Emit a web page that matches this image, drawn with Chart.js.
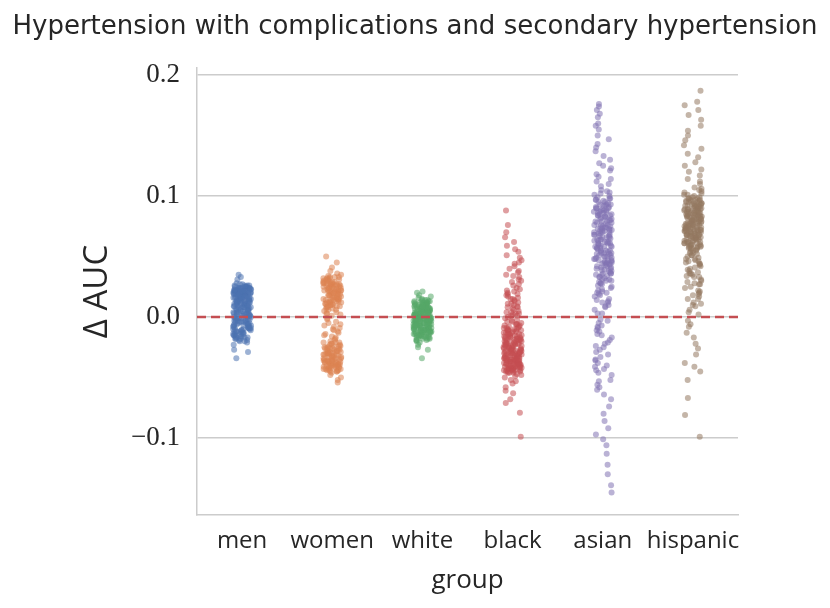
<!DOCTYPE html>
<html>
<head>
<meta charset="utf-8">
<script src="https://cdn.jsdelivr.net/npm/chart.js@4.4.1/dist/chart.umd.min.js"></script>
<style>
  html, body { margin: 0; padding: 0; background: #fff; }
  #wrap { width: 830px; height: 608px; }
</style>
</head>
<body>
<div id="wrap"><canvas id="stripChart" width="830" height="608"></canvas></div>
<script>
const titleText = 'Hypertension with complications and secondary hypertension';
const groups = ['men', 'women', 'white', 'black', 'asian', 'hispanic'];
const yTicks = [-0.1, 0, 0.1, 0.2];
const refLine = 0;

// delta AUC per bootstrap sample
const menVals = [
  0.021, 0.004, -0.012, 0.018, 0.025, -0.003, 0.009, 0.016, -0.017, 0.022, 0.001, 0.013, -0.008, 0.027, 0.019, -0.014, 0.006, 0.023, -0.001, 0.015,
  0.011, -0.019, 0.020, 0.003, 0.024, -0.006, 0.017, 0.008, -0.010, 0.021, 0.014, -0.004, 0.026, 0.002, -0.015, 0.019, 0.010, -0.009, 0.023, 0.005,
  0.018, -0.013, 0.022, 0.000, 0.016, -0.007, 0.025, 0.012, -0.018, 0.020, 0.007, -0.002, 0.024, 0.015, -0.011, 0.021, 0.003, -0.016, 0.019, 0.009,
  0.035, -0.029, 0.017, -0.005, 0.022, 0.011, -0.020, 0.026, 0.006, -0.008, 0.020, 0.013, -0.003, 0.023, 0.001, -0.012, 0.018, 0.016, -0.006, 0.024,
  0.010, -0.014, 0.021, 0.004, -0.001, 0.019, 0.014, -0.017, 0.025, 0.008, -0.010, 0.022, 0.002, -0.004, 0.017, 0.012, -0.021, 0.020, 0.006, 0.028,
  -0.034, 0.015, -0.007, 0.023, 0.009, -0.015, 0.018, 0.003, -0.002, 0.021, 0.013, -0.009, 0.026, 0.007, -0.019, 0.016, 0.011, -0.005, 0.024, 0.000,
  0.019, -0.013, 0.022, 0.005, -0.011, 0.020, 0.014, -0.003, 0.017, 0.010, -0.016, 0.025, 0.002, -0.008, 0.021, 0.015, -0.018, 0.023, 0.008, -0.006,
  0.033, -0.027, 0.018, 0.012, -0.001, 0.022, 0.004, -0.014, 0.019, 0.016, -0.010, 0.024, 0.006, -0.020, 0.020, 0.011, -0.004, 0.027, 0.001, -0.012,
  0.031, -0.023, 0.017, 0.009, -0.007, 0.021, 0.014, -0.005, 0.022, 0.008, -0.012, 0.019, 0.001, 0.024, -0.009, 0.017,
  0.011, -0.015, 0.021, 0.004, -0.002, 0.018, 0.013, -0.018, 0.025, 0.006, -0.007, 0.020, 0.010, -0.011, 0.023, 0.002, 0.016, -0.004, 0.019, 0.012,
  -0.014, 0.022, 0.007, -0.001, 0.026, 0.015, -0.008, 0.018, 0.003, -0.016, 0.021, 0.009, -0.006, 0.024, 0.013, -0.010, 0.017, 0.000, 0.020, -0.013,
  0.011, 0.023, -0.003, 0.016, 0.005, -0.017, 0.022, 0.014, -0.009, 0.019
];
const womenVals = [
  0.021, -0.033, 0.014, -0.041, 0.028, -0.026, 0.007, -0.038, 0.019, -0.012, 0.031, -0.044, 0.011, -0.029, 0.024, -0.005, -0.036, 0.016, -0.022, 0.033,
  -0.040, 0.003, -0.031, 0.026, -0.018, 0.012, -0.043, 0.022, -0.027, 0.009, -0.035, 0.030, -0.008, -0.039, 0.017, -0.024, 0.025, -0.032, 0.005, -0.045,
  0.020, -0.015, 0.034, -0.037, 0.013, -0.028, 0.027, -0.002, -0.042, 0.018, -0.021, 0.010, -0.034, 0.029, -0.030, 0.015, -0.010, -0.040, 0.023, -0.025,
  0.050, -0.054, 0.032, -0.038, 0.006, -0.023, 0.021, -0.044, 0.014, -0.033, 0.026, -0.016, 0.001, -0.036, 0.019, -0.029, 0.031, -0.041, 0.008, -0.020,
  0.045, -0.050, 0.024, -0.031, 0.012, -0.007, -0.039, 0.028, -0.026, 0.017, -0.043, 0.022, -0.034, 0.004, -0.013, 0.033, -0.037, 0.016, -0.022, 0.025,
  -0.030, 0.011, -0.042, 0.020, -0.027, 0.029, -0.004, -0.035, 0.014, -0.019, 0.027, -0.040, 0.007, -0.032, 0.023, -0.024, 0.018, -0.045, 0.030, -0.011,
  0.041, -0.048, 0.010, -0.036, 0.026, -0.028, 0.015, -0.001, -0.038, 0.021, -0.017, 0.032, -0.043, 0.013, -0.031, 0.024, -0.009, -0.033, 0.019, -0.025,
  0.038, -0.052, 0.028, -0.039, 0.002, -0.021, 0.022, -0.041, 0.016, -0.034, 0.035, -0.014, 0.009, -0.037, 0.027, -0.030, 0.012, -0.044, 0.020, -0.006,
  0.036, -0.046, 0.025, -0.026, 0.018, -0.036, 0.026, -0.029, 0.011, -0.042, 0.030, -0.024, 0.015, -0.039, 0.022, -0.032,
  0.006, -0.044, 0.028, -0.027, 0.019, -0.037, 0.013, -0.021, 0.032, -0.040, 0.024, -0.030, 0.009, -0.035, 0.027, -0.043, 0.016, -0.026, 0.021, -0.038,
  0.003, -0.033, 0.029, -0.041, 0.012, -0.023, 0.025, -0.034, 0.020, -0.045, 0.031, -0.028, 0.014, -0.039, 0.023, -0.031, 0.008, -0.036, 0.027, -0.042,
  0.017, -0.025, 0.033, -0.037, 0.010, -0.030, 0.022, -0.040
];
const whiteVals = [
  -0.003, 0.005, -0.011, 0.009, -0.006, 0.001, -0.015, 0.012, -0.008, -0.001, 0.007, -0.013, 0.003, -0.005, 0.010, -0.017, -0.002, 0.006, -0.009, 0.013,
  -0.004, 0.000, -0.012, 0.008, -0.007, 0.002, -0.016, 0.011, -0.003, -0.010, 0.004, -0.014, 0.014, -0.006, 0.001, -0.019, 0.009, -0.002, -0.008, 0.006,
  0.020, -0.034, -0.011, 0.005, -0.004, 0.012, -0.013, 0.003, -0.007, 0.000, -0.018, 0.010, -0.001, -0.009, 0.007, -0.015, 0.002, -0.005, 0.015, -0.012,
  0.004, -0.003, -0.020, 0.008, -0.006, 0.001, -0.010, 0.011, -0.002, -0.014, 0.006, -0.008, 0.013, -0.004, 0.000, -0.017, 0.009, -0.011, 0.003, -0.001,
  0.021, -0.027, 0.007, -0.005, -0.012, 0.010, -0.003, 0.002, -0.016, 0.005, -0.009, 0.014, -0.006, 0.000, -0.013, 0.008, -0.002, -0.021, 0.004, -0.007,
  0.017, -0.025, 0.011, -0.010, 0.001, -0.004, 0.006, -0.015, 0.012, -0.008, -0.001, 0.003, -0.018, 0.009, -0.005, 0.016, -0.011, 0.002, -0.003, -0.014,
  0.018, -0.023, 0.007, -0.006, 0.010, -0.009, 0.004, -0.002, -0.012, 0.013, -0.019, 0.005, -0.005, 0.008, -0.010, 0.002, -0.014, 0.011,
  -0.002, -0.008, 0.005, -0.016, 0.013, -0.004, 0.000, -0.012, 0.007, -0.007, 0.003, -0.018, 0.010, -0.001, -0.009, 0.006, -0.013, 0.012, -0.003, 0.001,
  -0.015, 0.009, -0.006, 0.004, -0.011, 0.014, -0.002, -0.017, 0.007, -0.005, 0.010, -0.008, 0.002, -0.012, 0.005, -0.004, -0.014, 0.011, -0.001, -0.010,
  0.008, -0.006, 0.000, -0.016, 0.012, -0.003, 0.004, -0.009, 0.006, -0.013, 0.001, -0.007, 0.009, -0.019
];
const blackVals = [
  -0.021, 0.012, -0.034, -0.009, 0.045, -0.027, -0.041, 0.003, -0.016, -0.038, 0.019, -0.030, -0.006, -0.044, 0.026, -0.023, -0.012, -0.036, 0.008, -0.019,
  -0.031, 0.062, -0.043, -0.014, 0.001, -0.025, -0.039, 0.015, -0.008, -0.033, -0.046, 0.034, -0.018, -0.028, -0.002, -0.040, 0.022, -0.011, -0.035, -0.024,
  0.088, -0.052, 0.005, -0.029, -0.017, -0.042, 0.010, -0.037, -0.020, 0.040, -0.007, -0.032, -0.045, 0.017, -0.026, -0.013, -0.039, 0.000, -0.022, -0.034,
  0.076, -0.058, 0.024, -0.015, -0.030, -0.043, 0.006, -0.019, -0.036, 0.049, -0.010, -0.027, -0.041, 0.013, -0.005, -0.033, -0.023, 0.031, -0.038, -0.016,
  0.070, -0.063, 0.002, -0.044, -0.028, -0.012, 0.020, -0.035, -0.021, 0.037, -0.031, -0.047, 0.009, -0.017, -0.040, -0.025, 0.054, -0.008, -0.032, -0.042,
  0.066, -0.071, 0.016, -0.029, -0.014, -0.037, 0.004, -0.024, -0.045, 0.027, -0.019, -0.034, -0.003, -0.039, 0.011, -0.026, -0.011, 0.044, -0.030, -0.043,
  0.059, -0.079, 0.021, -0.036, -0.018, -0.006, -0.041, 0.007, -0.022, 0.033, -0.028, -0.046, 0.014, -0.015, -0.033, -0.038, 0.051, -0.001, -0.020, -0.044,
  0.056, -0.099, 0.018, -0.027, -0.009, -0.040, 0.029, -0.031, -0.049, 0.042, -0.035, -0.013, 0.003, -0.024, -0.042, 0.038, -0.016, -0.055, 0.023, -0.037,
  0.047, -0.061, -0.004, -0.029, -0.045, 0.030, -0.022, -0.039, -0.050, -0.068, 0.035, -0.032,
  -0.027, -0.039, -0.015, -0.033, -0.044, -0.020, -0.010, -0.036, -0.025, -0.041, -0.018, -0.030, -0.006, -0.038, -0.023, -0.045, -0.013, -0.034, -0.028, -0.040,
  -0.017, -0.031, -0.043, -0.022, -0.009, -0.037, -0.026, -0.042, -0.014, -0.032, 0.004, -0.024, -0.046, -0.019, -0.035, -0.011, -0.029, -0.041, 0.011, -0.021,
  -0.036, -0.007, -0.044, -0.027, -0.016, -0.039, 0.008, -0.030, -0.012, -0.042, -0.025, -0.034, 0.015, -0.020, -0.038, -0.031, -0.004, -0.043, -0.023, -0.035,
  -0.048, -0.053, 0.019, -0.010, -0.037, -0.026, 0.001, -0.040, -0.018, -0.033
];
const asianVals = [
  0.062, 0.034, 0.081, -0.012, 0.047, 0.093, 0.021, 0.068, 0.055, -0.031, 0.076, 0.040, 0.102, 0.015, 0.059, 0.087, 0.028, -0.048, 0.071, 0.044,
  0.176, 0.053, 0.009, 0.084, 0.036, 0.065, -0.005, 0.097, 0.049, 0.025, 0.073, 0.057, -0.022, 0.090, 0.038, 0.012, 0.079, 0.061, -0.040, 0.045,
  0.171, 0.104, 0.031, 0.066, 0.052, -0.015, 0.088, 0.042, 0.018, 0.074, 0.058, -0.036, 0.095, 0.033, 0.006, 0.070, 0.048, -0.056, 0.083, 0.027,
  0.165, 0.060, 0.039, -0.002, 0.092, 0.054, 0.020, 0.077, 0.043, -0.027, 0.099, 0.064, 0.030, 0.086, 0.050, -0.009, 0.072, 0.035, -0.064, 0.082,
  0.158, 0.046, 0.013, 0.069, 0.056, -0.019, 0.091, 0.041, 0.024, 0.078, 0.063, -0.044, 0.100, 0.037, 0.003, 0.075, 0.051, -0.033, 0.085, 0.029,
  0.150, 0.067, 0.017, 0.058, 0.094, -0.007, 0.044, 0.080, 0.032, -0.052, 0.061, 0.089, 0.022, 0.070, 0.039, -0.024, 0.096, 0.053, 0.010, 0.076,
  0.143, -0.074, 0.121, 0.048, 0.087, 0.026, -0.011, 0.066, 0.035, 0.103, -0.060, 0.057, 0.081, 0.014, -0.038, 0.073, 0.045, 0.098, -0.017, 0.062,
  0.137, -0.086, 0.116, 0.030, 0.084, 0.050, -0.003, 0.091, 0.040, 0.068, -0.046, 0.055, 0.019, 0.079, -0.029, 0.064, 0.105, 0.042, -0.068, 0.088,
  0.130, -0.092, 0.112, 0.074, 0.023, -0.014, 0.060, 0.036, -0.053, 0.093, 0.047, 0.008, -0.035, 0.071, -0.101, 0.125, -0.106, 0.168, -0.122, 0.155,
  -0.139, 0.147, -0.145, 0.133, -0.080, 0.118, -0.113, 0.127, -0.097, 0.160, -0.058, 0.110, -0.021, 0.140, -0.043, 0.108, 0.174, -0.130, 0.123, 0.114,
  0.058, 0.083, 0.041, 0.069, 0.092, 0.052, 0.075, 0.036, 0.064, 0.087, 0.047, 0.071, 0.098, 0.055, 0.080, 0.028, 0.062, 0.090, 0.044, 0.073,
  0.050, 0.085, 0.033, 0.067, 0.095, 0.057, 0.078, 0.020, 0.061, 0.088, 0.046, 0.070, 0.101, 0.053, 0.082, 0.038, 0.066, 0.093, 0.049, 0.076,
  0.012, 0.059, 0.086, 0.043, 0.072, 0.097, 0.054, 0.079, 0.031, 0.063, -0.008, 0.090, 0.045, -0.025, 0.068, 0.003, 0.084, -0.041, 0.051, 0.074
];
const hispanicVals = [
  0.081, 0.064, 0.095, 0.072, 0.058, 0.089, 0.076, 0.101, 0.067, 0.084, 0.062, 0.093, 0.070, 0.079, 0.055, 0.087, 0.074, 0.098, 0.066, 0.083,
  0.044, 0.077, 0.060, 0.091, 0.069, 0.086, 0.028, 0.073, 0.096, 0.063, 0.080, 0.012, 0.068, 0.090, 0.057, 0.075, 0.038, 0.085, 0.071, 0.104,
  0.178, 0.061, 0.082, 0.050, 0.094, 0.078, 0.019, 0.065, 0.088, 0.073, 0.035, 0.097, 0.059, 0.080, -0.008, 0.069, 0.092, 0.076, 0.047, 0.084,
  0.171, 0.066, 0.099, 0.054, 0.079, 0.024, 0.087, 0.071, 0.006, 0.062, 0.095, 0.041, 0.074, 0.083, -0.017, 0.068, 0.090, 0.031, 0.077, 0.060,
  0.163, 0.086, 0.051, 0.072, 0.097, 0.015, 0.065, 0.081, 0.043, 0.088, -0.026, 0.070, 0.056, 0.093, 0.022, 0.078, 0.063, 0.102, 0.037, 0.085,
  0.154, 0.067, 0.009, 0.075, 0.046, 0.091, 0.059, 0.082, -0.003, 0.073, 0.027, 0.096, 0.064, 0.053, 0.087, 0.017, 0.070, 0.079, 0.040, 0.061,
  0.146, -0.045, 0.120, 0.084, 0.033, 0.068, 0.105, 0.049, -0.031, 0.076, 0.092, 0.002, 0.058, 0.081, 0.029, -0.013, 0.066, 0.100, 0.045, 0.072,
  0.139, -0.067, 0.114, 0.052, 0.089, 0.010, 0.074, -0.022, 0.061, 0.094, 0.036, 0.083, -0.038, 0.069, 0.048, 0.098, 0.020, 0.078, 0.057, 0.090,
  0.132, -0.081, 0.125, 0.175, 0.110, 0.187, 0.117, 0.167, 0.128, 0.158, 0.122, 0.150, 0.112, 0.142, 0.135, -0.099, 0.106, -0.052, 0.107, -0.041,
  0.078, 0.092, 0.065, 0.086, 0.071, 0.099, 0.059, 0.083, 0.074, 0.094, 0.067, 0.088, 0.062, 0.080, 0.097, 0.070, 0.085, 0.057, 0.091, 0.076,
  0.064, 0.089, 0.073, 0.101, 0.068, 0.082, 0.060, 0.095, 0.077, 0.087, 0.066, 0.093, 0.072, 0.084, 0.056, 0.090, 0.075, 0.098, 0.069, 0.081,
  0.063, 0.096, 0.079, 0.088, 0.058, 0.092, 0.071, 0.085, 0.066, 0.103, 0.074, 0.083, 0.061, 0.089, 0.078, 0.094, 0.068, 0.086, 0.073, 0.080,
  0.042, 0.027, 0.051, 0.015, 0.036, 0.048, 0.004, 0.033, 0.055, 0.021, 0.039, 0.046, 0.011, 0.030, 0.053, -0.006, 0.025, 0.044, 0.018, 0.034
];

const groupVals = [menVals, womenVals, whiteVals, blackVals, asianVals, hispanicVals];
const colors = ['76,114,176', '221,132,82', '85,168,104', '196,78,82', '129,114,179', '147,120,96'];

const textColor = '#262626';
const gridColor = '#cccccc';
const sansFont = '"Open Sans", "Noto Sans", sans-serif';
const titleFont = '"DejaVu Sans", sans-serif';
const serifFont = '"Liberation Serif", "DejaVu Serif", serif';

// fixed strip jitter so the picture is the same every run
function jitter(g, i) {
  const s = Math.sin((g + 1) * 997 + i * 12.9898) * 43758.5453;
  return (s - Math.floor(s) - 0.5) * 0.2;
}

function tickText(v) {
  if (v === 0) return '0.0';
  return (v < 0 ? '\u2212' : '') + Math.abs(v).toFixed(1);
}

const datasets = groupVals.map((vals, g) => ({
  type: 'scatter',
  data: vals.map((v, i) => ({ x: g + jitter(g, i), y: v })),
  backgroundColor: 'rgba(' + colors[g] + ',0.55)',
  borderWidth: 0,
  pointRadius: 3,
  pointHoverRadius: 3,
  order: 1
}));

datasets.push({
  type: 'line',
  data: [{ x: -0.5, y: refLine }, { x: groups.length - 0.5, y: refLine }],
  borderColor: '#c44e52',
  borderWidth: 2.5,
  borderDash: [9, 5],
  pointRadius: 0,
  fill: false,
  order: 0
});

const ctx = document.getElementById('stripChart').getContext('2d');
const chart = new Chart(ctx, {
  type: 'scatter',
  data: { datasets: datasets },
  options: {
    responsive: false,
    animation: false,
    devicePixelRatio: 1,
    layout: { padding: 0 },
    plugins: {
      legend: { display: false },
      tooltip: { enabled: false },
      title: {
        display: true,
        text: titleText,
        color: textColor,
        font: { family: titleFont, size: 26, weight: 'normal' },
        padding: { top: 12, bottom: 24.8 }
      }
    },
    scales: {
      x: {
        type: 'linear',
        min: -0.5,
        max: groups.length - 0.5,
        afterBuildTicks: s => { s.ticks = groups.map((_, i) => ({ value: i })); },
        afterFit: s => { s.height = 93; },
        ticks: {
          callback: v => groups[v],
          color: textColor,
          font: { family: sansFont, size: 24 },
          padding: 12,
          autoSkip: false,
          maxRotation: 0
        },
        grid: { display: false, drawTicks: false },
        border: { display: true, color: gridColor, width: 1.5 },
        title: {
          display: true,
          text: 'group',
          color: textColor,
          font: { family: sansFont, size: 26 },
          padding: { top: 0, bottom: 12 }
        }
      },
      y: {
        min: -0.1636,
        max: 0.2058,
        afterBuildTicks: s => { s.ticks = yTicks.map(v => ({ value: v })); },
        afterFit: s => { s.width = 197; },
        ticks: {
          callback: tickText,
          color: textColor,
          font: { family: serifFont, size: 27 },
          padding: 17
        },
        grid: { color: gridColor, lineWidth: 1.5, drawTicks: false },
        border: { display: true, color: gridColor, width: 1.5 },
        title: {
          display: true,
          text: '\u0394 AUC',
          color: textColor,
          font: { family: sansFont, size: 33 },
          padding: { top: 78, bottom: 0 }
        }
      },
      // empty right-hand margin, keeps the plot area the same width as the original
      gap: {
        position: 'right',
        min: 0,
        max: 1,
        afterFit: s => { s.width = 92; },
        ticks: { display: false },
        grid: { display: false, drawTicks: false },
        border: { display: false }
      }
    }
  }
});
</script>
</body>
</html>
